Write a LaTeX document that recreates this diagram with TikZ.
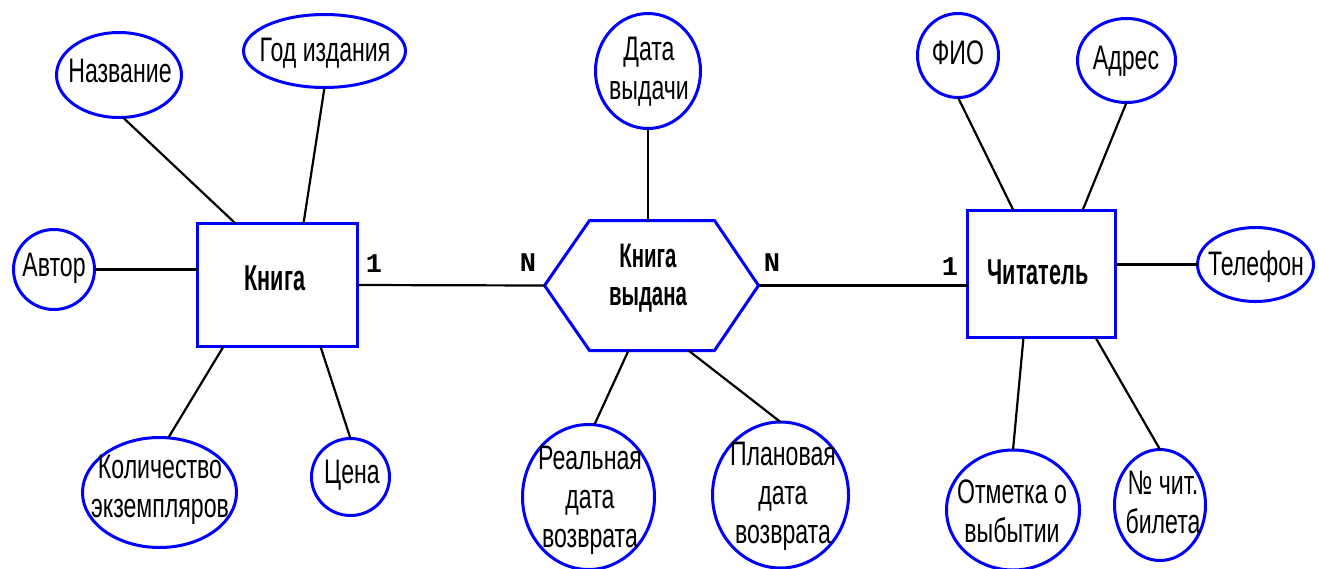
\documentclass[tikz,border=0pt]{standalone}
\usepackage{fontspec}
\setmainfont[FakeStretch=0.68]{Liberation Sans}
\newfontfamily\entfont[FakeStretch=0.6]{Liberation Sans}
\newfontfamily\cardfont{Liberation Mono}
\usetikzlibrary{shapes.geometric,calc}
\begin{document}
\begin{tikzpicture}[x=1pt,y=-1pt,
  attr/.style={draw=blue, line width=3pt, shape=ellipse, inner sep=0pt, outer sep=0pt},
  ent/.style={draw=blue, line width=3pt, rectangle, inner sep=0pt, outer sep=0pt},
  lnk/.style={line width=2.2pt, black},
  txt/.style={font=\fontsize{34}{39}\selectfont, align=center, inner sep=0pt},
  enttxt/.style={font=\entfont\bfseries\fontsize{36}{38}\selectfont, align=center, inner sep=0pt},
  card/.style={font=\cardfont\bfseries\fontsize{27}{27}\selectfont, inner sep=0pt}]
\path[use as bounding box, fill=white] (0,0) rectangle (1319,568);
\clip (0,0) rectangle (1319,568);

% entities
\node[ent, minimum width=160, minimum height=123] (kniga) at (277.5,285) {};
\node[enttxt] (knigaT) at (275,278) {Книга};
\node[ent, minimum width=148, minimum height=127] (chit) at (1041.5,274) {};
\node[enttxt] (chitT) at (1038,272) {Читатель};

% relationship (hexagon)
\node[inner sep=0pt, outer sep=0pt, minimum width=214, minimum height=130] (hex) at (651.5,285.5) {};
\draw[blue, line width=3pt, line join=miter]
  (hex.west) -- ([xshift=45]hex.north west) -- ([xshift=-44]hex.north east) -- (hex.east)
  -- ([xshift=-44]hex.south east) -- ([xshift=45]hex.south west) -- cycle;
\node[enttxt, font=\entfont\bfseries\fontsize{34}{38}\selectfont] (hexT) at (648,278) {Книга\\выдана};

% attributes
\node[attr, minimum width=125, minimum height=85] (nazv) at (119,75) {};
\node[txt] (nazvT) at (120,71) {Название};
\node[attr, minimum width=162, minimum height=73] (god) at (324.5,51) {};
\node[txt] (godT) at (325,53) {Год издания};
\node[attr, minimum width=81, minimum height=80] (avtor) at (54,269.5) {};
\node[txt] (avtorT) at (54,268) {Автор};
\node[attr, minimum width=154, minimum height=110] (kol) at (159.5,492.5) {};
\node[txt] (kolT) at (160,490) {Количество\\экземпляров};
\node[attr, minimum width=78, minimum height=77] (cena) at (350.5,477) {};
\node[txt] (cenaT) at (352,475) {Цена};

\node[attr, minimum width=105, minimum height=115] (data) at (648,71) {};
\node[txt] (dataT) at (649,72) {Дата\\выдачи};
\node[attr, minimum width=132, minimum height=145] (real) at (588.5,497) {};
\node[txt] (realT) at (590,500) {Реальная\\дата\\возврата};
\node[attr, minimum width=136, minimum height=146] (plan) at (780.5,495) {};
\node[txt] (planT) at (783,496) {Плановая\\дата\\возврата};

\node[attr, minimum width=81, minimum height=84] (fio) at (958,55.5) {};
\node[txt] (fioT) at (958,53) {ФИО};
\node[attr, minimum width=98, minimum height=84] (adres) at (1126.5,60.5) {};
\node[txt] (adresT) at (1126,61) {Адрес};
\node[attr, minimum width=116, minimum height=74] (tel) at (1255.5,264.5) {};
\node[txt] (telT) at (1256,267) {Телефон};
\node[attr, minimum width=133, minimum height=120] (otm) at (1013,510) {};
\node[txt] (otmT) at (1012,511) {Отметка о\\выбытии};
\node[attr, minimum width=91, minimum height=111] (nchit) at (1160,505) {};
\node[txt] (nchitT) at (1163,502) {№ чит.\\билета};

% cardinalities
\node[card] (c1) at (374,264) {1};
\node[card] (n1) at (528,263) {N};
\node[card] (n2) at (772,263) {N};
\node[card] (c2) at (950,267) {1};

% connectors
\draw[lnk] ([xshift=4]nazv.south) -- ([xshift=38]kniga.north west);
\draw[lnk] (god.south) -- ([xshift=106]kniga.north west);
\draw[lnk] (avtor.east) -- (avtor.east -| kniga.west);
\draw[lnk] ([xshift=26]kniga.south west) -- ([xshift=9]kol.north);
\draw[lnk] ([xshift=123]kniga.south west) -- (cena.north);
\draw[lnk] (kniga.east) -- (hex.west);
\draw[lnk] (data.south) -- (data.south |- hex.north);
\draw[lnk] ([xshift=84]hex.south west) -- ([xshift=6]real.north);
\draw[lnk] ([xshift=144]hex.south west) -- (plan.north);
\draw[lnk] (hex.east) -- (hex.east -| chit.west);
\draw[lnk] (fio.south) -- ([xshift=46]chit.north west);
\draw[lnk] (adres.south) -- ([xshift=115]chit.north west);
\draw[lnk] (tel.west) -- (tel.west -| chit.east);
\draw[lnk] ([xshift=56]chit.south west) -- (otm.north);
\draw[lnk] ([xshift=128]chit.south west) -- (nchit.north);
\end{tikzpicture}
\end{document}
